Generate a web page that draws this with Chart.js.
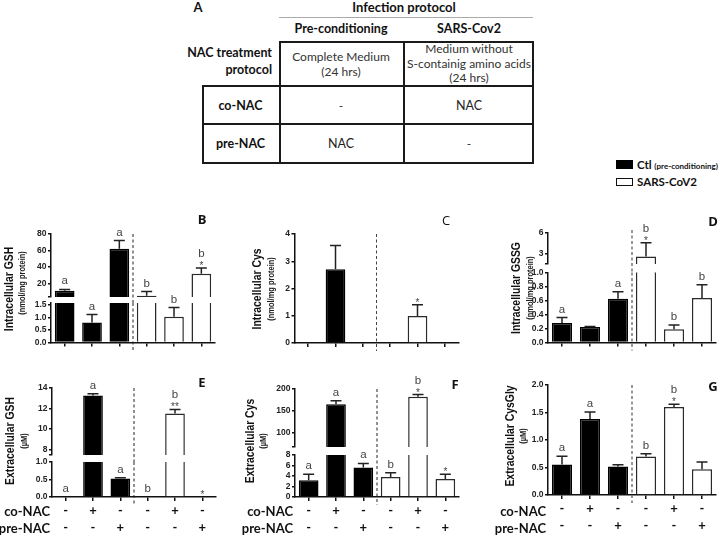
<!DOCTYPE html>
<html><head><meta charset="utf-8">
<script src="https://cdn.jsdelivr.net/npm/chart.js@4.4.1/dist/chart.umd.min.js"></script>
<style>
html,body{margin:0;padding:0;background:#fff;}
#stage{position:relative;width:722px;height:537px;overflow:hidden;background:#fff;font-family:Lato,"Open Sans",sans-serif;color:#111;}
canvas{position:absolute;left:0;top:0;}
.t{position:absolute;white-space:nowrap;line-height:1;transform:translate(-50%,-50%);}
.b{font-weight:bold;}
.ln{position:absolute;background:#1a1a1a;}
</style></head><body><div id="stage">
<!-- Panel A table -->
<div class="t b" style="left:198px;top:7px;font-size:13px;">A</div>
<div class="t b" style="left:404px;top:7px;font-size:13px;">Infection protocol</div>
<div class="ln" style="left:279px;top:16.5px;width:254px;height:1.5px;background:#aaa;"></div>
<div class="t b" style="left:341px;top:29px;font-size:12.5px;">Pre-conditioning</div>
<div class="t b" style="left:469px;top:29px;font-size:12.5px;">SARS-Cov2</div>
<div class="t b" style="left:272px;top:53px;font-size:12.5px;transform:translate(-100%,-50%);">NAC treatment</div>
<div class="t b" style="left:272px;top:70px;font-size:12.5px;transform:translate(-100%,-50%);">protocol</div>
<div class="t" style="left:341px;top:57px;font-size:12px;color:#333;">Complete Medium</div>
<div class="t" style="left:341px;top:72px;font-size:12px;color:#333;">(24 hrs)</div>
<div class="t" style="left:469px;top:49px;font-size:12px;color:#333;">Medium without</div>
<div class="t" style="left:469px;top:63.5px;font-size:12px;color:#333;">S-containig amino acids</div>
<div class="t" style="left:469px;top:78px;font-size:12px;color:#333;">(24 hrs)</div>
<div class="t b" style="left:240.5px;top:106px;font-size:12.5px;">co-NAC</div>
<div class="t" style="left:341px;top:106px;font-size:12px;color:#333;">-</div>
<div class="t" style="left:469px;top:106px;font-size:12.5px;color:#222;">NAC</div>
<div class="t b" style="left:240.5px;top:143.5px;font-size:12.5px;">pre-NAC</div>
<div class="t" style="left:341px;top:143.5px;font-size:12.5px;color:#222;">NAC</div>
<div class="t" style="left:469px;top:143.5px;font-size:12px;color:#333;">-</div>
<div class="ln" style="left:279px;top:41px;width:255px;height:2px;"></div>
<div class="ln" style="left:202px;top:85px;width:332px;height:2px;"></div>
<div class="ln" style="left:202px;top:123px;width:332px;height:1.5px;"></div>
<div class="ln" style="left:202px;top:161.5px;width:332px;height:2px;"></div>
<div class="ln" style="left:278.5px;top:41px;width:2px;height:122.5px;"></div>
<div class="ln" style="left:403px;top:41px;width:1.5px;height:122.5px;"></div>
<div class="ln" style="left:532px;top:41px;width:2px;height:122.5px;"></div>
<div class="ln" style="left:202px;top:85px;width:2px;height:78.5px;"></div>
<!-- Legend -->
<div style="position:absolute;left:616px;top:160px;width:17px;height:9px;background:#000;"></div>
<div class="t b" style="left:637px;top:165px;font-size:11.5px;transform:translate(0,-50%);">Ctl <span style="font-size:8px;">(pre-conditioning)</span></div>
<div style="position:absolute;left:616px;top:178px;width:14.5px;height:5.5px;border:1.5px solid #111;background:#fff;"></div>
<div class="t b" style="left:637px;top:182px;font-size:11.5px;transform:translate(0,-50%);">SARS-CoV2</div>
</div>
<script>
// ---------------- DATA ----------------
const groupNames = ['Ctl (pre-conditioning)', 'SARS-CoV2'];
const categories = ['Ctl', 'Ctl co-NAC', 'Ctl pre-NAC', 'SARS-CoV2', 'SARS-CoV2 co-NAC', 'SARS-CoV2 pre-NAC'];
const categoryGroup = [0, 0, 0, 1, 1, 1];
const coNAC = ['-', '+', '-', '-', '+', '-'];
const preNAC = ['-', '-', '+', '-', '-', '+'];

// B  Intracellular GSH (nmol/mg protein)
const gshIn = [11, 0.8, 62, 5, 1.03, 31.5];
const gshInErr = [1.5, 0.32, 10, 5, 0.37, 7];
const gshInLetters = ['a', 'a', 'a', 'b', 'b', 'b'];
const gshInStars = ['', '', '', '', '', '*'];
const gshInTicksHigh = [20, 40, 60, 80];
const gshInTicksLow = [0, 0.5, 1.0, 1.5];

// C  Intracellular Cys (nmol/mg protein)
const cysIn = [null, 2.71, null, null, 0.99, null];
const cysInErr = [0, 0.87, 0, 0, 0.41, 0];
const cysInLetters = ['', '', '', '', '', ''];
const cysInStars = ['', '', '', '', '*', ''];
const cysInTicks = [0, 1, 2, 3, 4];

// D  Intracellular GSSG (nmol/mg protein)
const gssgIn = [0.277, 0.22, 0.624, 2.6, 0.19, 0.634];
const gssgInErr = [0.08, 0.01, 0.1, 2.0, 0.06, 0.19];
const gssgInLetters = ['a', '', 'a', 'b', 'b', 'b'];
const gssgInStars = ['', '', '', '*', '', ''];
const gssgInTicksHigh = [3, 6];
const gssgInTicksLow = [0, 0.2, 0.4, 0.6, 0.8, 1.0];

// E  Extracellular GSH (uM)
const gshEx = [0, 13.27, 0.53, 0, 11.5, 0];
const gshExErr = [0, 0.17, 0.02, 0, 0.4, 0];
const gshExLetters = ['a', 'a', 'a', 'b', 'b', ''];
const gshExStars = ['', '', '', '', '**', '*'];
const gshExTicksHigh = [8, 10, 12, 14];
const gshExTicksLow = [0, 0.5, 1.0];

// F  Extracellular Cys (uM)
const cysEx = [3.2, 165, 5.6, 3.83, 182.4, 3.45];
const cysExErr = [1.14, 8, 0.8, 0.8, 5, 0.9];
const cysExLetters = ['a', 'a', 'a', 'b', 'b', ''];
const cysExStars = ['', '', '', '', '*', '*'];
const cysExTicksHigh = [100, 150, 200];
const cysExTicksLow = [0, 2, 4, 6, 8];

// G  Extracellular CysGly (uM)
const cysGlyEx = [0.555, 1.38, 0.52, 0.70, 1.60, 0.47];
const cysGlyExErr = [0.15, 0.13, 0.03, 0.05, 0.05, 0.13];
const cysGlyExLetters = ['a', 'a', '', 'b', 'b', ''];
const cysGlyExStars = ['', '', '', '', '*', ''];
const cysGlyExTicks = [0, 0.5, 1.0, 1.5, 2.0];

// ---------------- LAYOUT ----------------
const stage = document.getElementById('stage');
const fills = ['#000000', '#ffffff'];
const edges = ['#000000', '#2a2a2a'];
const W = 722, H = 537, YW = 30;

const panels = [
  { key: 'B', keyBold: true, keyPos: [202, 219], title: 'Intracellular GSH', sub: '(nmol/mg protein)', titlePos: [8, 289], subPos: [22, 283],
    values: gshIn, errs: gshInErr, letters: gshInLetters, stars: gshInStars,
    axisX: 51, width: 164, xLabels: false, dashColor: '#222', dashWidth: 1, dashTop: 0,
    segments: [
      { top: 234, bottom: 297, min: 3.33, max: 80, ticks: gshInTicksHigh, dec: 0 },
      { top: 303, bottom: 342.5, min: 0, max: 1.58, ticks: gshInTicksLow, dec: 1 } ] },
  { key: 'C', keyBold: false, keyPos: [446, 220], title: 'Intracellular Cys', sub: '(nmol/mg protein)', titlePos: [256, 289], subPos: [271, 289],
    values: cysIn, errs: cysInErr, letters: cysInLetters, stars: cysInStars,
    axisX: 294.5, width: 164, xLabels: false, dashColor: '#444', dashWidth: 1, dashTop: 0,
    segments: [ { top: 234, bottom: 343, min: 0, max: 4, ticks: cysInTicks, dec: 0 } ] },
  { key: 'D', keyBold: true, keyPos: [713, 221], title: 'Intracellular GSSG', sub: '(nmol/mg protein)', titlePos: [515, 288], subPos: [530, 288],
    values: gssgIn, errs: gssgInErr, letters: gssgInLetters, stars: gssgInStars,
    axisX: 548, width: 168, xLabels: false, dashColor: '#777', dashWidth: 1.5, dashTop: 3,
    segments: [
      { top: 233, bottom: 264, min: 1.5, max: 6, ticks: gssgInTicksHigh, dec: 0 },
      { top: 272.5, bottom: 342.5, min: 0, max: 1.0, ticks: gssgInTicksLow, dec: 1 } ] },
  { key: 'E', keyBold: true, keyPos: [202, 382], title: 'Extracellular GSH', sub: '(\u00b5M)', titlePos: [9, 441], subPos: [24, 441],
    values: gshEx, errs: gshExErr, letters: gshExLetters, stars: gshExStars,
    axisX: 52, width: 164, xLabels: true, dashColor: '#222', dashWidth: 1, dashTop: 0,
    segments: [
      { top: 388, bottom: 455, min: 7.44, max: 14, ticks: gshExTicksHigh, dec: 0 },
      { top: 462, bottom: 497, min: 0, max: 1.0, ticks: gshExTicksLow, dec: 1 } ] },
  { key: 'F', keyBold: true, keyPos: [455, 384], title: 'Extracellular Cys', sub: '(\u00b5M)', titlePos: [249, 441], subPos: [263, 441],
    values: cysEx, errs: cysExErr, letters: cysExLetters, stars: cysExStars,
    axisX: 295, width: 164, xLabels: true, dashColor: '#222', dashWidth: 1, dashTop: 0,
    segments: [
      { top: 389, bottom: 447, min: 67.3, max: 200, ticks: cysExTicksHigh, dec: 0 },
      { top: 455, bottom: 497, min: 0, max: 8, ticks: cysExTicksLow, dec: 0 } ] },
  { key: 'G', keyBold: true, keyPos: [713, 386], title: 'Extracellular CysGly', sub: '(\u00b5M)', titlePos: [509, 436], subPos: [523, 436],
    values: cysGlyEx, errs: cysGlyExErr, letters: cysGlyExLetters, stars: cysGlyExStars,
    axisX: 548, width: 168, xLabels: true, dashColor: '#777', dashWidth: 1.5, dashTop: 0,
    segments: [ { top: 385, bottom: 495, min: 0, max: 2, ticks: cysGlyExTicks, dec: 1 } ] },
];

function addText(s, x, y, css, transform) {
  const d = document.createElement('div');
  d.className = 't';
  d.textContent = s;
  d.style.cssText += css;
  d.style.left = x + 'px';
  d.style.top = y + 'px';
  if (transform) d.style.transform = transform;
  stage.appendChild(d);
}

function annotPlugin(p, s, isTop, nextGap, isBottom) {
  return {
    id: 'annot' + p.key,
    afterDatasetsDraw(chart) {
      const ctx = chart.ctx, xs = chart.scales.x, ys = chart.scales.y, area = chart.chartArea;
      ctx.save();
      // dashed separator between the two groups
      const xd = (xs.getPixelForValue(2) + xs.getPixelForValue(3)) / 2;
      ctx.strokeStyle = p.dashColor;
      ctx.lineWidth = p.dashWidth;
      ctx.setLineDash([3, 2.5]);
      ctx.beginPath();
      ctx.moveTo(xd, area.top - (isTop ? p.dashTop : 0));
      ctx.lineTo(xd, area.bottom + (isBottom ? 8 : nextGap));
      ctx.stroke();
      ctx.setLineDash([]);
      // error bars + significance marks
      p.values.forEach((v, i) => {
        if (v === null || v === undefined) return;
        const owns = v >= ys.min && (v <= ys.max || isTop);
        if (!owns) return;
        const xc = xs.getPixelForValue(i);
        const e = p.errs[i] || 0;
        const y0 = ys.getPixelForValue(v);
        const y1 = ys.getPixelForValue(v + e);
        if (e > 0) {
          ctx.strokeStyle = '#222';
          ctx.lineWidth = 1.5;
          ctx.beginPath();
          ctx.moveTo(xc, y0); ctx.lineTo(xc, y1);
          ctx.moveTo(xc - 5.5, y1); ctx.lineTo(xc + 5.5, y1);
          ctx.stroke();
        }
        ctx.fillStyle = '#444';
        ctx.textAlign = 'center';
        ctx.textBaseline = 'alphabetic';
        const star = p.stars[i], letter = p.letters[i];
        let base = y1;
        if (star) {
          ctx.font = '10px "Liberation Sans", Arial, sans-serif';
          ctx.fillText(star, xc, base + 1);
          base -= 11;
        } else {
          base -= 5;
        }
        if (letter) {
          ctx.font = '11.5px "Liberation Sans", Arial, sans-serif';
          ctx.fillText(letter, xc, base);
        }
      });
      ctx.restore();
    }
  };
}

function segmentChart(p, idx) {
  const s = p.segments[idx];
  const isTop = idx === 0;
  const isBottom = idx === p.segments.length - 1;
  const nextGap = isBottom ? 0 : p.segments[idx + 1].top - s.bottom;
  const c = document.createElement('canvas');
  c.width = W; c.height = H;
  c.style.width = W + 'px'; c.style.height = H + 'px';
  stage.appendChild(c);
  const xH = isBottom ? (p.xLabels ? H - s.bottom : 10) : 0;
  const tickList = isTop && !isBottom ? [s.min].concat(s.ticks) : s.ticks.slice();
  new Chart(c, {
    type: 'bar',
    data: {
      labels: categories.map((_, i) => [coNAC[i], preNAC[i]]),
      datasets: [{
        label: p.title,
        data: p.values,
        backgroundColor: categoryGroup.map(g => fills[g]),
        borderColor: categoryGroup.map(g => edges[g]),
        borderWidth: 1.5,
        barPercentage: 0.72,
        categoryPercentage: 1.0
      }]
    },
    options: {
      responsive: false,
      animation: false,
      devicePixelRatio: 1,
      layout: { padding: { left: p.axisX - YW, right: W - p.axisX - p.width, top: s.top, bottom: H - s.bottom - xH } },
      plugins: { legend: { display: false }, tooltip: { enabled: false } },
      scales: {
        x: {
          type: 'category',
          display: isBottom,
          offset: true,
          grid: { display: true, offset: false, drawOnChartArea: false, drawTicks: true, tickLength: 4, color: '#111', lineWidth: 1.5 },
          border: { display: true, color: '#111', width: 1.5 },
          ticks: { display: p.xLabels, color: '#111', padding: 1, maxRotation: 0, autoSkip: false,
                   font: { family: 'Lato, "Open Sans", sans-serif', size: 13, weight: 'bold', lineHeight: 1.3 } },
          afterFit: sc => { sc.height = xH; }
        },
        y: {
          type: 'linear',
          min: s.min,
          max: s.max,
          afterBuildTicks: sc => { sc.ticks = tickList.map(v => ({ value: v })); },
          grid: { display: true, drawOnChartArea: false, drawTicks: true, tickLength: 3, color: '#111', lineWidth: 1.5 },
          border: { display: true, color: '#111', width: 1.5 },
          ticks: {
            autoSkip: false, padding: 1.5, color: '#222',
            font: { family: '"Liberation Sans", Arial, sans-serif', size: 8.5, weight: 'bold' },
            callback: v => (s.ticks.indexOf(v) >= 0 ? v.toFixed(s.dec) : '')
          },
          afterFit: sc => { sc.width = YW; }
        }
      }
    },
    plugins: [annotPlugin(p, s, isTop, nextGap, isBottom)]
  });
}

panels.forEach(p => {
  p.segments.forEach((_, i) => segmentChart(p, i));
  addText(p.key, p.keyPos[0], p.keyPos[1], 'font-size:13px;font-family:"Open Sans",Lato,sans-serif;' + (p.keyBold ? 'font-weight:bold;' : ''));
  addText(p.title, p.titlePos[0], p.titlePos[1], 'font-size:13px;font-weight:bold;font-family:"Liberation Sans",Arial,sans-serif;color:#111;', 'translate(-50%,-50%) rotate(-90deg) scaleX(0.8)');
  addText(p.sub, p.subPos[0], p.subPos[1], 'font-size:8.5px;font-weight:bold;font-family:"Liberation Sans",Arial,sans-serif;color:#222;', 'translate(-50%,-50%) rotate(-90deg) scaleX(0.88)');
  if (p.xLabels) {
    addText('co-NAC', p.axisX - 2, 511, 'font-size:13px;font-weight:bold;', 'translate(-100%,-50%)');
    addText('pre-NAC', p.axisX - 2, 528, 'font-size:13px;font-weight:bold;', 'translate(-100%,-50%)');
  }
});
</script>
</body></html>
